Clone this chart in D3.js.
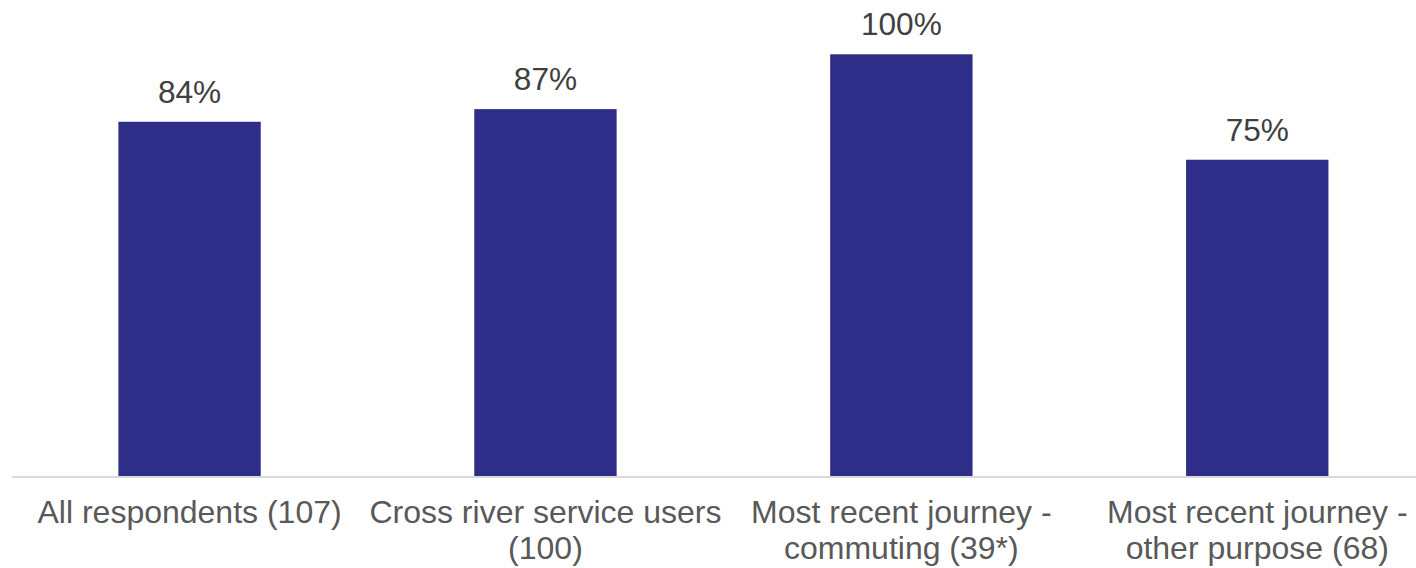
<!DOCTYPE html>
<html>
<head>
<meta charset="utf-8">
<script src="https://cdn.jsdelivr.net/npm/d3@7"></script>
<style>
  html, body { margin: 0; padding: 0; background: #ffffff; }
  svg { display: block; }
  text { font-family: "Liberation Sans", Arial, sans-serif; }
</style>
</head>
<body>
<svg id="chart" width="1416" height="568"></svg>
<script>
// Share of respondents per group (percent)
const categories = [
  "All respondents (107)",
  "Cross river service users\n(100)",
  "Most recent journey -\ncommuting (39*)",
  "Most recent journey -\nother purpose (68)"
];
const values = [84, 87, 100, 75];

const W = 1416, H = 568;
const baseY = 476;
const topY = 54.3;

const svg = d3.select("#chart");

const x = d3.scaleBand()
  .domain(categories)
  .range([11.6, 1435.2])
  .paddingInner(0.6)
  .paddingOuter(0.3);

const y = d3.scaleLinear()
  .domain([0, 100])
  .range([baseY, topY]);

// Bars
svg.append("g")
  .selectAll("rect")
  .data(values)
  .join("rect")
  .attr("x", (d, i) => x(categories[i]))
  .attr("y", d => y(d))
  .attr("width", x.bandwidth())
  .attr("height", d => baseY - y(d))
  .attr("fill", "#2e2d87");

// Value labels
svg.append("g")
  .selectAll("text")
  .data(values)
  .join("text")
  .attr("x", (d, i) => x(categories[i]) + x.bandwidth() / 2)
  .attr("y", d => y(d) - 19)
  .attr("text-anchor", "middle")
  .attr("font-size", 31.6)
  .attr("fill", "#404040")
  .text(d => d + "%");

// Category axis
const axis = svg.append("g")
  .attr("transform", `translate(0,${baseY})`)
  .call(d3.axisBottom(x).tickSize(0).tickFormat(""));
axis.select(".domain").remove();
axis.append("line")
  .attr("x1", 11.6).attr("x2", W)
  .attr("y1", 1).attr("y2", 1)
  .attr("stroke", "#d9d9d9")
  .attr("stroke-width", 2);

axis.selectAll(".tick").each(function(d) {
  const t = d3.select(this).append("text")
    .attr("text-anchor", "middle")
    .attr("font-size", 32)
    .attr("fill", "#595959")
    .attr("y", 47);
  d.split("\n").forEach((line, k) => {
    t.append("tspan").attr("x", 0).attr("dy", k === 0 ? 0 : 35.5).text(line);
  });
});
</script>
</body>
</html>
